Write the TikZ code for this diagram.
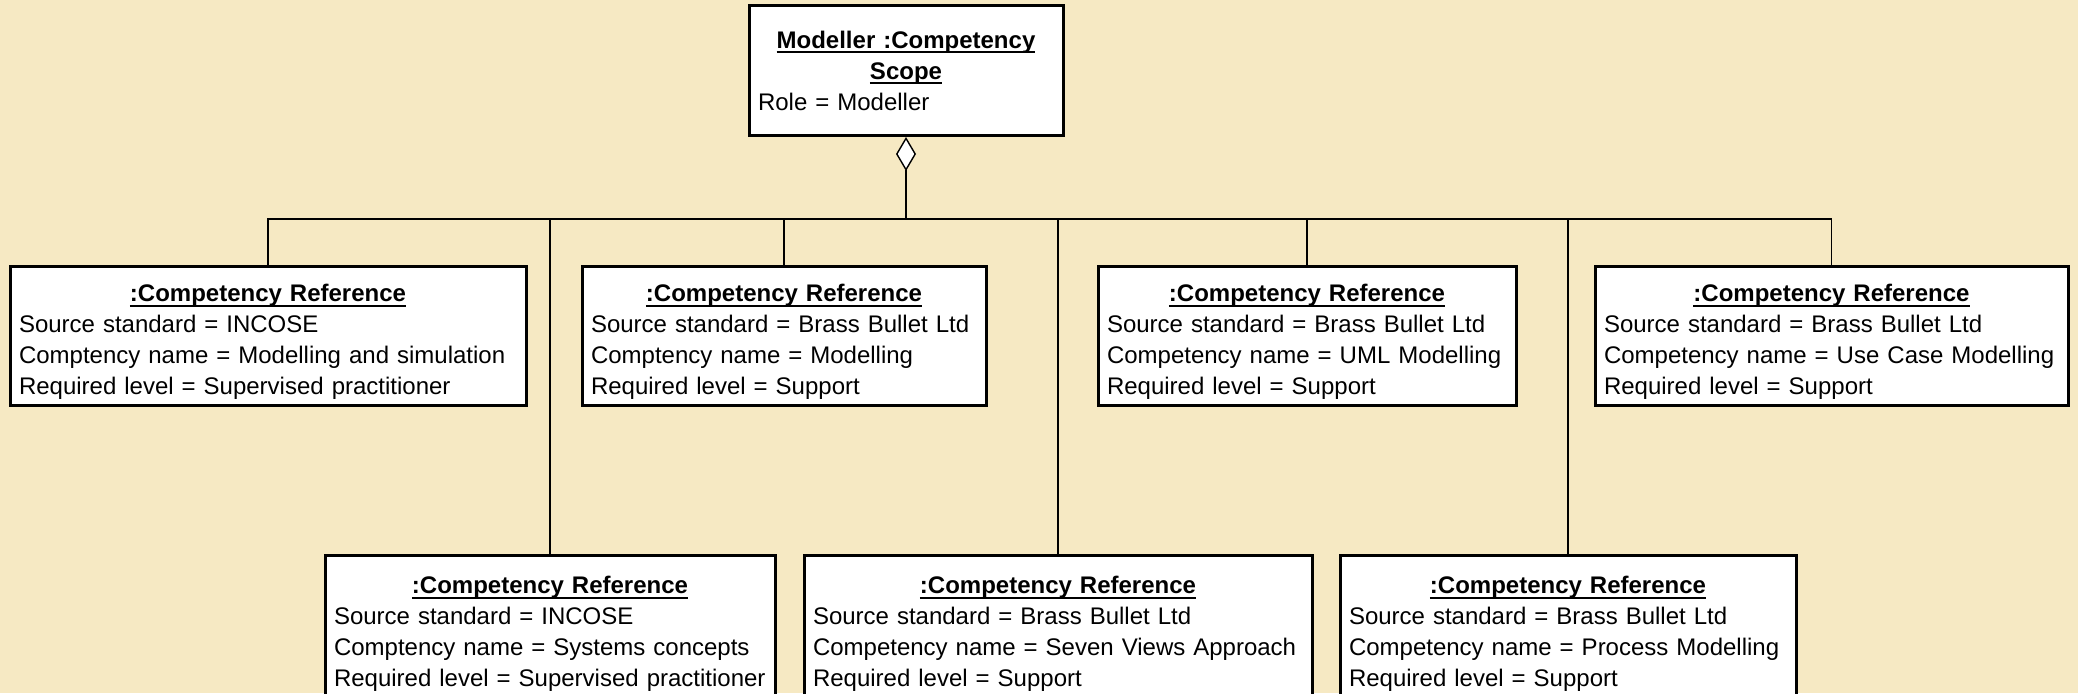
\documentclass[tikz,border=0pt]{standalone}
\usepackage{fontspec}
\setmainfont{Liberation Sans}
\usetikzlibrary{arrows.meta}

\definecolor{parchment}{RGB}{246,233,195}

% underlined bold title with a firmer rule
\newsavebox{\titlebox}
\newcommand{\titleline}[1]{%
  \leavevmode\sbox{\titlebox}{\textbf{#1}}%
  \rlap{\rule[-2.6pt]{\wd\titlebox}{0.9pt}}\usebox{\titlebox}}

% one competency reference object: source, name line, level
\newcommand{\refentry}[3]{%
  {\centering\rule{0pt}{14.5pt}\titleline{:Competency Reference}\par}%
  Source standard = #1\\
  #2\\
  Required level = #3}

\tikzset{
  objbox/.style={draw, line width=1.5pt, fill=white, anchor=north, align=left,
    inner xsep=4.5pt, inner ysep=0pt, font=\fontsize{12}{15.5}\selectfont},
  link/.style={line width=0.7pt},
}

\begin{document}
\begin{tikzpicture}[x=0.5pt,y=-0.5pt]
    % Page and background
    \useasboundingbox (0,0) rectangle (2078,693);
    \clip (0,0) rectangle (2078,693);
    \fill[parchment] (0,0) rectangle (2078,693);

    % Competency scope at the top
    \node[objbox, text width=148pt, minimum height=65pt] (scope) at (906,4)
        {{\centering\titleline{Modeller :Competency}\par\titleline{Scope}\par}Role = Modeller};

    % Junction of the tree
    \coordinate (bus) at (906,219);

    % First row of references
    \node[objbox, text width=249pt, minimum height=69.5pt] (refA) at (268,265)
        {\refentry{INCOSE}{Comptency name = Modelling and simulation}{Supervised practitioner}};
    \node[objbox, text width=193pt, minimum height=69.5pt] (refB) at (784,265)
        {\refentry{Brass Bullet Ltd}{Comptency name = Modelling}{Support}};
    \node[objbox, text width=200pt, minimum height=69.5pt] (refC) at (1307,265)
        {\refentry{Brass Bullet Ltd}{Competency name = UML Modelling}{Support}};
    \node[objbox, text width=227.5pt, minimum height=69.5pt] (refD) at (1831.5,265)
        {\refentry{Brass Bullet Ltd}{Competency name = Use Case Modelling}{Support}};

    % Second row (runs off the bottom edge)
    \node[objbox, text width=216pt, minimum height=72.5pt] (refE) at (550,554)
        {\refentry{INCOSE}{Comptency name = Systems concepts}{Supervised practitioner}};
    \node[objbox, text width=245pt, minimum height=72.5pt] (refF) at (1058,554)
        {\refentry{Brass Bullet Ltd}{Competency name = Seven Views Approach}{Support}};
    \node[objbox, text width=219pt, minimum height=72.5pt] (refG) at (1568,554)
        {\refentry{Brass Bullet Ltd}{Competency name = Process Modelling}{Support}};

    % Aggregation
    \draw[link, {Diamond[fill=white,length=17pt,width=10pt]}-] (scope.south) -- (bus);
    \draw[link] (refA.north) |- (bus) -| (refD.north);
    \foreach \r in {refB,refC,refE,refF,refG}
        \draw[link] (\r.north) -- (\r.north |- bus);
\end{tikzpicture}
\end{document}
